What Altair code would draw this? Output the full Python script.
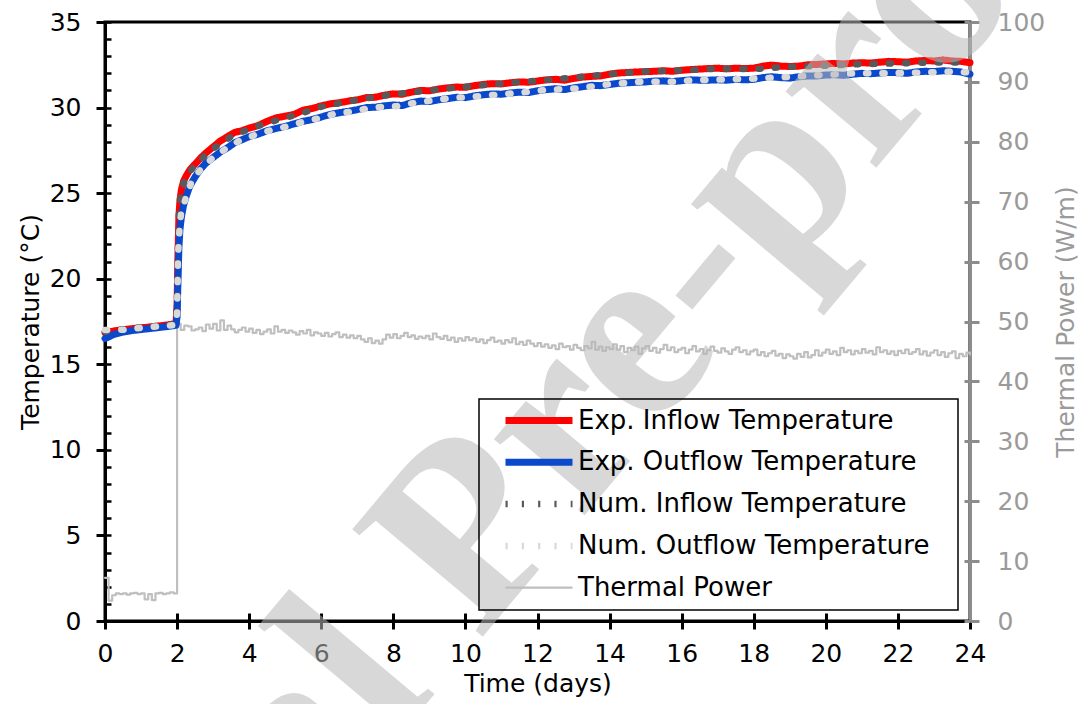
import altair as alt
import pandas as pd

# ---------------- data ----------------
t_exp = [0, 0.25, 0.5, 0.75, 1.0, 1.25, 1.5, 1.75, 1.97, 2.0, 2.02, 2.05, 2.08, 2.12, 2.18, 2.25,
         2.35, 2.5, 2.65, 2.8, 3.0, 3.2, 3.4, 3.6, 3.8, 4.0,
         4.25, 4.5, 4.75, 5.0, 5.25, 5.5, 5.75, 6.0, 6.25, 6.5,
         6.75, 7.0, 7.25, 7.5, 7.75, 8.0, 8.25, 8.5, 8.75, 9.0,
         9.25, 9.5, 9.75, 10.0, 10.25, 10.5, 10.75, 11.0, 11.25, 11.5,
         11.75, 12.0, 12.25, 12.5, 12.75, 13.0, 13.25, 13.5, 13.75, 14.0,
         14.25, 14.5, 14.75, 15.0, 15.25, 15.5, 15.75, 16.0, 16.25, 16.5,
         16.75, 17.0, 17.25, 17.5, 17.75, 18.0, 18.25, 18.5, 18.75, 19.0,
         19.25, 19.5, 19.75, 20.0, 20.25, 20.5, 20.75, 21.0, 21.25, 21.5,
         21.75, 22.0, 22.25, 22.5, 22.75, 23.0, 23.25, 23.5, 23.75, 24.0]

exp_inflow = [16.85, 16.95, 17.02, 17.08, 17.13, 17.18, 17.24, 17.3, 17.38, 18.5, 21.0, 23.6, 24.6,
              25.2, 25.7, 26.0, 26.35, 26.7, 27.05, 27.35, 27.7, 28.05, 28.3, 28.55, 28.65, 28.8,
              28.95, 29.2, 29.4, 29.5, 29.6, 29.85, 29.95, 30.1, 30.22, 30.28,
              30.38, 30.45, 30.58, 30.6, 30.72, 30.8, 30.78, 30.9, 31.0, 30.98,
              31.08, 31.15, 31.2, 31.18, 31.28, 31.35, 31.4, 31.38, 31.45, 31.5,
              31.48, 31.55, 31.62, 31.65, 31.6, 31.7, 31.78, 31.82, 31.85, 31.95,
              32.02, 32.05, 32.08, 32.1, 32.12, 32.15, 32.12, 32.18, 32.22, 32.25,
              32.28, 32.3, 32.26, 32.3, 32.28, 32.3, 32.42, 32.48, 32.42, 32.4,
              32.42, 32.5, 32.52, 32.55, 32.58, 32.55, 32.6, 32.62, 32.6, 32.65,
              32.7, 32.68, 32.65, 32.72, 32.75, 32.72, 32.78, 32.72, 32.7, 32.62]

exp_outflow = [16.5, 16.75, 16.88, 16.97, 17.03, 17.09, 17.15, 17.21, 17.28, 17.8, 19.5, 21.8, 22.9,
               23.6, 24.3, 24.8, 25.4, 25.95, 26.4, 26.75, 27.08, 27.4, 27.65, 27.95, 28.12, 28.3,
               28.45, 28.65, 28.78, 28.9, 29.05, 29.2, 29.3, 29.45, 29.6, 29.7,
               29.78, 29.88, 30.0, 30.02, 30.1, 30.15, 30.12, 30.28, 30.38, 30.35,
               30.45, 30.52, 30.6, 30.58, 30.68, 30.75, 30.8, 30.78, 30.85, 30.9,
               30.88, 30.98, 31.05, 31.1, 31.05, 31.15, 31.22, 31.3, 31.28, 31.35,
               31.42, 31.45, 31.48, 31.5, 31.55, 31.56, 31.52, 31.57, 31.62, 31.6,
               31.6, 31.62, 31.6, 31.65, 31.62, 31.65, 31.75, 31.8, 31.75, 31.72,
               31.8, 31.85, 31.85, 31.9, 31.92, 31.88, 31.95, 32.0, 31.98, 32.02,
               32.05, 32.04, 32.0, 32.08, 32.12, 32.1, 32.15, 32.12, 32.08, 31.95]

t_num_in = [0, 0.5, 1.0, 1.5, 1.97, 2.0, 2.02, 2.05, 2.1, 2.2, 2.35, 2.5, 2.75, 3.0, 3.5, 4.0, 4.5,
            5.0, 5.5, 6.0, 7.0, 8.0, 9.0, 10.0, 11.0, 12.0, 13.0, 14.0, 15.0, 16.0, 17.0, 18.0,
            19.0, 20.0, 21.0, 22.0, 23.0, 24.0]
num_inflow = [16.9, 17.05, 17.15, 17.25, 17.35, 18.8, 21.5, 23.8, 25.0, 25.7, 26.25, 26.65, 27.15,
              27.6, 28.3, 28.75, 29.1, 29.4, 29.7, 30.05, 30.45, 30.78, 31.0, 31.22, 31.4, 31.57,
              31.75, 31.95, 32.12, 32.17, 32.27, 32.25, 32.38, 32.45, 32.54, 32.58, 32.64, 32.64]

t_num_out = [0, 0.5, 1.0, 1.5, 1.97, 2.0, 2.03, 2.07, 2.11, 2.25, 2.4, 2.67, 3.0, 3.35, 3.75, 4.15,
             4.6, 5.0, 5.5, 5.9, 6.4, 6.8, 7.3, 7.7, 8.1, 8.6, 9.5, 10.4, 11.3, 12.2, 13.1, 14.0,
             14.9, 15.8, 16.3, 17.2, 18.1, 19.05, 19.9, 20.8, 21.7, 22.7, 23.5, 24.0]
num_outflow = [17.0, 17.02, 17.13, 17.22, 17.3, 18.0, 21.5, 23.0, 23.8, 24.78, 25.66, 26.44, 27.08,
               27.6, 28.09, 28.39, 28.68, 28.87, 29.17, 29.36, 29.65, 29.75, 29.95, 30.05, 30.08,
               30.28, 30.53, 30.67, 30.83, 31.02, 31.12, 31.37, 31.51, 31.51, 31.6, 31.64, 31.7,
               31.8, 31.9, 32.0, 32.0, 32.04, 32.1, 32.05]

# thermal power sampled every 0.1 day (W/m)
thermal_power = [
    7.2, 3.4, 4.3, 4.6, 4.5, 4.6, 4.4, 4.6, 4.7, 4.5,
    4.6, 3.6, 4.5, 3.5, 4.6, 4.7, 4.5, 4.6, 4.8, 4.6,
    49.6, 48.6, 49.3, 49.2, 48.5, 48.7, 49.0, 48.4, 49.5, 48.8,
    49.6, 48.5, 50.2, 48.6, 49.3, 48.7, 48.2, 48.6, 49.0, 48.3,
    48.8, 48.1, 48.6, 47.9, 48.3, 48.7, 48.0, 49.2, 48.3, 48.6,
    48.1, 48.5, 48.2, 47.8, 48.4, 48.0, 48.6, 47.7, 48.2, 48.0,
    47.6, 48.1, 47.5, 47.9, 48.2, 47.4, 47.8, 47.3, 47.7, 47.2,
    47.6, 47.0, 46.6, 47.2, 46.4, 46.8, 46.3, 47.0, 47.8, 47.3,
    47.9, 47.2, 47.6, 48.1, 47.4, 47.7, 47.1, 47.5, 47.2, 47.6,
    47.0, 48.0, 47.4, 47.1, 47.6, 46.9, 47.3, 46.6, 47.2, 46.8,
    47.4, 46.9, 47.2, 46.6, 47.0, 46.4, 46.9, 47.3, 46.6, 46.8,
    46.3, 46.9, 46.5, 47.2, 46.2, 46.6, 46.1, 46.8, 46.3, 45.9,
    46.4, 45.8, 46.2, 45.6, 46.0, 45.4, 46.3, 45.7, 45.9, 45.3,
    46.1, 45.6, 45.2, 45.9, 45.5, 46.6, 45.3, 45.8, 45.1, 45.7,
    45.4, 46.2, 45.3, 45.9, 44.9, 45.6, 45.2, 45.8, 44.6, 45.5,
    45.9, 45.1, 45.6, 44.8, 45.4, 46.1, 45.2, 45.7, 44.9, 45.3,
    45.6, 44.7, 45.3, 45.9, 45.0, 45.4, 44.6, 45.2, 45.8, 45.1,
    44.8, 45.5, 45.0, 44.6, 45.3, 45.7, 44.9, 45.2, 44.5, 45.0,
    45.3, 44.4, 44.9, 44.2, 44.7, 45.1, 44.3, 44.6, 43.9, 44.5,
    44.2, 43.8, 44.6, 44.1, 44.9, 44.0, 44.4, 45.2, 44.3, 44.8,
    45.3, 44.6, 45.0, 44.4, 45.6, 44.9, 45.2, 44.5, 45.1, 44.7,
    45.4, 44.8, 45.1, 44.5, 45.7, 44.9, 45.2, 44.6, 45.0, 44.4,
    45.1, 44.7, 45.3, 44.6, 44.9, 45.4, 44.5, 45.0, 44.3, 44.8,
    45.2, 44.4, 44.9, 44.1, 44.7, 45.0, 43.9, 44.6, 44.2, 44.8,
    44.5]
t_power = [round(0.1 * i, 1) for i in range(len(thermal_power))]

SERIES = ["Exp. Inflow Temperature", "Exp. Outflow Temperature",
          "Num. Inflow Temperature", "Num. Outflow Temperature", "Thermal Power"]
COLORS = ["#ff0000", "#0a48cc", "#595959", "#d9d9d9", "#bfbfbf"]
DASHES = [[1, 0], [1, 0], [2.2, 14.1], [2.2, 14.1], [1, 0]]
WIDTHS = [7, 7, 6.5, 6.5, 2.2]

df_ei = pd.DataFrame({"t": t_exp, "value": exp_inflow, "series": SERIES[0]})
df_eo = pd.DataFrame({"t": t_exp, "value": exp_outflow, "series": SERIES[1]})
df_ni = pd.DataFrame({"t": t_num_in, "value": num_inflow, "series": SERIES[2]})
df_no = pd.DataFrame({"t": t_num_out, "value": num_outflow, "series": SERIES[3]})
df_pw = pd.DataFrame({"t": t_power, "value": thermal_power, "series": SERIES[4]})
df_wm = pd.DataFrame({"text": ["Journal Pre-proof"]})

FONT = "DejaVu Sans"
GRAY_AX = "#8c8c8c"
GRAY_TXT = "#9a9a9a"
W, H = 865, 599

xs = alt.Scale(domain=[0, 24], nice=False, zero=False)
ys_t = alt.Scale(domain=[0, 35], nice=False)
ys_p = alt.Scale(domain=[0, 100], nice=False)

legend = alt.Legend(title=None, orient="none", legendX=374, legendY=377,
                    symbolType="stroke", symbolSize=4489, clipHeight=25,
                    rowPadding=14.8, padding=9, symbolOffset=14, labelOffset=2,
                    labelFont=FONT, labelFontSize=26, labelColor="black",
                    labelLimit=1000, strokeColor="black",
                    labelExpr="datum.label + '\u2800'")


def series_enc():
    return dict(
        color=alt.Color("series:N", scale=alt.Scale(domain=SERIES, range=COLORS), legend=legend),
        strokeDash=alt.StrokeDash("series:N", scale=alt.Scale(type="ordinal", domain=SERIES, range=DASHES),
                                  legend=legend),
        strokeWidth=alt.StrokeWidth("series:N", scale=alt.Scale(type="ordinal", domain=SERIES, range=WIDTHS),
                                    legend=legend),
    )


x_axis_main = alt.Axis(orient="bottom", values=list(range(0, 25, 2)), format="d", grid=False,
                       tickSize=8, tickWidth=3, tickColor="black", domainWidth=3,
                       domainColor="black", labelFontSize=25, labelColor="black",
                       labelPadding=12, labelFlush=False, title="Time (days)", titleFontSize=25,
                       titleColor="black", titlePadding=5)
y_axis_main = alt.Axis(orient="left", values=list(range(0, 36, 5)), format="d", grid=False,
                       tickSize=9, tickWidth=3, tickColor="black", domainWidth=3,
                       domainColor="black", labelFontSize=25, labelColor="black",
                       labelPadding=15, labelFlush=False, title="Temperature (°C)", titleFontSize=25,
                       titleColor="black", titlePadding=6)
y_axis_power = alt.Axis(orient="right", values=list(range(0, 101, 10)), format="d", grid=False,
                        tickSize=9, tickWidth=3, tickColor=GRAY_AX, domainWidth=3,
                        domainColor=GRAY_AX, labelFontSize=25, labelColor=GRAY_TXT,
                        labelPadding=18, labelFlush=False, title="Thermal Power (W/m)", titleFontSize=25,
                        titleColor=GRAY_TXT, titleAngle=270, titlePadding=34)


def line_layer(df, x_axis=None, y_axis=None, yscale=ys_t, **mark):
    return alt.Chart(df).mark_line(strokeCap="round", strokeJoin="round", **mark).encode(
        x=alt.X("t:Q", scale=xs, axis=x_axis),
        y=alt.Y("value:Q", scale=yscale, axis=y_axis),
        **series_enc(),
    )


power = line_layer(df_pw, y_axis=y_axis_power, yscale=ys_p, interpolate="step-after")
l_ei = line_layer(df_ei, x_axis=x_axis_main, y_axis=y_axis_main)
l_eo = line_layer(df_eo)
l_ni = line_layer(df_ni)
l_no = line_layer(df_no)

# inward tick marks (bottom x axis and left temperature axis)
ticks_in_t = alt.Chart(df_ei).mark_line(opacity=0).encode(
    x=alt.X("t:Q", scale=xs, axis=alt.Axis(orient="top", offset=-H, values=list(range(0, 25, 2)),
                                           tickSize=8, tickWidth=3, tickColor="black",
                                           labels=False, domain=False, grid=False, title=None)),
    y=alt.Y("value:Q", scale=ys_t, axis=alt.Axis(orient="right", offset=-W, values=list(range(0, 36)),
                                                 tickSize=6, tickWidth=2.5, tickColor="black",
                                                 labels=False, domain=False, grid=False, title=None)),
)
# inward tick marks on the right power axis
ticks_in_p = alt.Chart(df_pw).mark_line(opacity=0).encode(
    x=alt.X("t:Q", scale=xs, axis=None),
    y=alt.Y("value:Q", scale=ys_p, axis=alt.Axis(orient="left", offset=-W, values=list(range(0, 101, 10)),
                                                 tickSize=6, tickWidth=3, tickColor=GRAY_AX,
                                                 labels=False, domain=False, grid=False, title=None)),
)

watermark = alt.Chart(df_wm).mark_text(
    font="Liberation Serif", fontWeight="bold", fontSize=258, angle=310,
    color="#b9b9b9", opacity=0.55, align="center", baseline="middle",
).encode(text="text:N", x=alt.value(360), y=alt.value(516))

chart = alt.layer(power, l_ei, l_eo, l_ni, l_no, ticks_in_t, ticks_in_p, watermark).resolve_scale(
    x="independent", y="independent"
).properties(
    width=W, height=H,
    padding={"left": 105, "top": 22, "right": 120, "bottom": 83},
    autosize=alt.AutoSizeParams(type="none"),
).configure_view(
    stroke="black", strokeWidth=3
).configure_axis(
    labelFont=FONT, titleFont=FONT, titleFontWeight="normal"
).configure_legend(
    strokeWidth=1.5
)

chart.save("out.html", embed_options={"renderer": "svg", "actions": False})
